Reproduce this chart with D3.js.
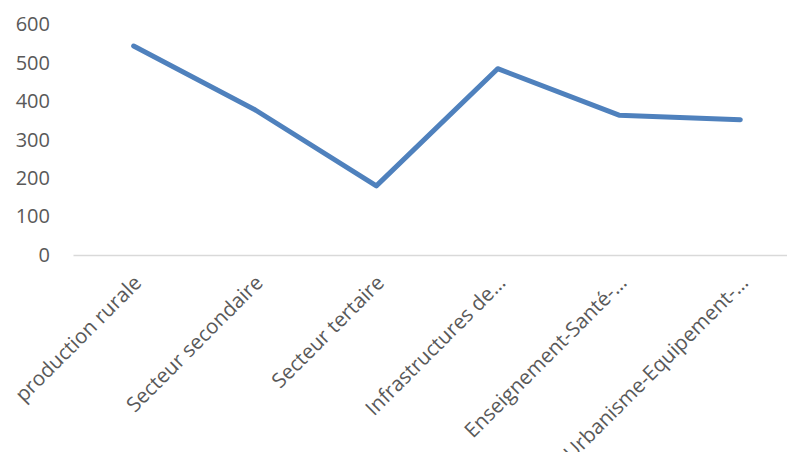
<!DOCTYPE html>
<html>
<head>
<meta charset="utf-8">
<script src="https://cdn.jsdelivr.net/npm/d3@7/dist/d3.min.js"></script>
<style>
  html, body { margin: 0; padding: 0; background: #ffffff; }
  svg { display: block; }
  text { font-family: "Open Sans", "Noto Sans", sans-serif; fill: #595959; }
</style>
</head>
<body>
<svg id="chart" width="787" height="452"></svg>
<script>
// Secteurs (libellés tronqués tels qu'affichés sur l'axe)
const categories = [
  "production rurale",
  "Secteur secondaire",
  "Secteur tertaire",
  "Infrastructures de…",
  "Enseignement-Santé-…",
  "Urbanisme-Equipement-…"
];
const values = [544, 378, 180, 485, 364, 352];
const yTicks = [0, 100, 200, 300, 400, 500, 600];

const svg = d3.select("#chart");

const x = d3.scaleBand()
  .domain(categories)
  .range([73, 801])
  .paddingInner(0)
  .paddingOuter(0);

const y = d3.scaleLinear()
  .domain([0, 600])
  .range([255, 24.5]);

// Axe des ordonnées : libellés seuls
const yAxis = d3.axisLeft(y)
  .tickValues(yTicks)
  .tickSize(0)
  .tickPadding(0);

svg.append("g")
  .attr("transform", "translate(50,0)")
  .call(yAxis)
  .call(g => g.select(".domain").remove())
  .call(g => g.selectAll("text")
    .attr("font-size", 20)
    .style("font-family", "'Open Sans', sans-serif")
    .attr("fill", "#595959"));

// Axe des abscisses
const xAxis = d3.axisBottom(x).tickSize(0).tickPadding(0);

const gx = svg.append("g")
  .attr("transform", `translate(0,${y(0)})`)
  .call(xAxis);

gx.select(".domain")
  .attr("stroke", "#d9d9d9")
  .attr("stroke-width", 1.5);

gx.selectAll(".tick text")
  .attr("font-size", 20.5)
  .style("font-family", "'Open Sans', sans-serif")
  .attr("fill", "#595959")
  .attr("text-anchor", "end")
  .attr("dy", "0.35em")
  .attr("transform", "translate(4,24) rotate(-45)");

// Courbe
const line = d3.line()
  .x((d, i) => x(categories[i]) + x.bandwidth() / 2)
  .y(d => y(d));

svg.append("path")
  .datum(values)
  .attr("fill", "none")
  .attr("stroke", "#4f81bd")
  .attr("stroke-width", 5)
  .attr("stroke-linecap", "round")
  .attr("stroke-linejoin", "round")
  .attr("d", line);
</script>
</body>
</html>
